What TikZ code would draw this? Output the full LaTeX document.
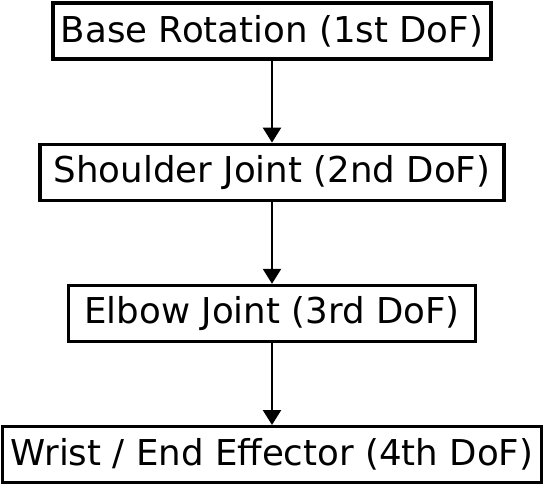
\documentclass[tikz,border=0pt]{standalone}
\usepackage{fontspec}
\setmainfont{DejaVu Sans}
\usetikzlibrary{positioning,arrows.meta}

\begin{document}
\begin{tikzpicture}[
    x=1pt, y=1pt,
    node distance=82pt,
    stage/.style={rectangle, draw, line width=3.2pt, minimum height=56pt, inner xsep=8pt, font=\fontsize{35.6}{40}\selectfont, text centered},
    arrow/.style={-{Triangle[width=18pt,length=15pt]}, line width=2.5pt}
]
\useasboundingbox (0,0) rectangle (547,-484);

% Chain of joints, top to bottom
\node[stage, minimum width=433pt] (base) at (272,-31) {Base Rotation (1st DoF)};
\node[stage, minimum width=464pt, below=of base] (shoulder) {Shoulder Joint (2nd DoF)};
\node[stage, minimum width=407pt, below=of shoulder] (elbow) {Elbow Joint (3rd DoF)};
\node[stage, minimum width=536pt, below=of elbow] (wrist) {Wrist / End Effector (4th DoF)};

% Arrows
\draw[arrow] (base) -- (shoulder);
\draw[arrow] (shoulder) -- (elbow);
\draw[arrow] (elbow) -- (wrist);

\end{tikzpicture}
\end{document}
